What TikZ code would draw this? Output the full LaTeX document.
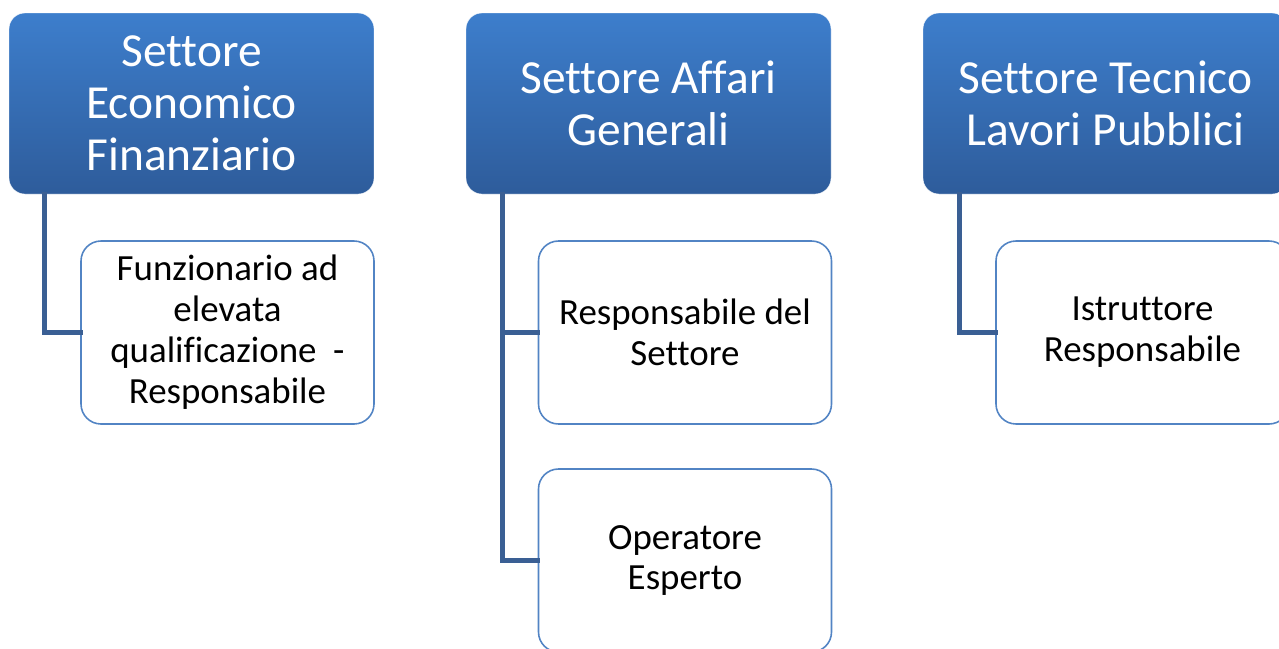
\documentclass[tikz,border=0pt]{standalone}
\usepackage{fontspec}
\setmainfont{Carlito}[Ligatures=NoCommon]
\usepackage{tikz}
\usetikzlibrary{positioning, calc, shapes, arrows.meta}
\definecolor{headTop}{HTML}{3D7ECC}
\definecolor{headBottom}{HTML}{2E5C9B}
\definecolor{linkBlue}{HTML}{3A5F94}
\definecolor{roleBorder}{HTML}{5284C4}
\tikzstyle{Link} = [
%Connector from sector to role:
line width = 0.1cm,
draw = linkBlue,
line cap = rect
]

\begin{document}
\begin{tikzpicture}[
				sector/.style = {rectangle, rounded corners = 0.32cm, draw = white, very thin, top color = headTop, bottom color = headBottom, text = white, align = center, minimum width = 7.3cm, minimum height = 3.62cm, font = \fontsize{27}{29.6}\selectfont},
				role/.style = {rectangle, rounded corners = 0.4cm, draw = roleBorder, line width = 0.9pt, fill = white, text = black, align = center, minimum width = 5.86cm, minimum height = 3.66cm, font = \fontsize{21}{23.3}\selectfont},
			]
			\useasboundingbox (0,0) rectangle (25.58,-12.96);

			\node[sector](EF) at (3.83,-2.07){Settore\\Economico\\Finanziario};
			\node[sector](AG) at (12.97,-2.07){Settore Affari\\Generali};
			\node[sector](TLP) at (22.11,-2.07){Settore Tecnico\\Lavori Pubblici};

			\node[role](EF1) at (4.55,-6.65){Funzionario ad\\elevata\\qualificazione\ \ -\\Responsabile};
			\node[role](AG1) at (13.7,-6.65){Responsabile del\\Settore};
			\node[role](AG2) at (13.7,-11.21){Operatore\\Esperto};
			\node[role](TLP1) at (22.85,-6.65){Istruttore\\Responsabile};

			\draw[Link]([xshift=0.72cm]EF.south west)|-(EF1.west);
			\draw[Link]([xshift=0.74cm]AG.south west)|-(AG1.west);
			\draw[Link]([xshift=0.74cm]AG.south west)|-(AG2.west);
			\draw[Link]([xshift=0.74cm]TLP.south west)|-(TLP1.west);

		\end{tikzpicture}
\end{document}
